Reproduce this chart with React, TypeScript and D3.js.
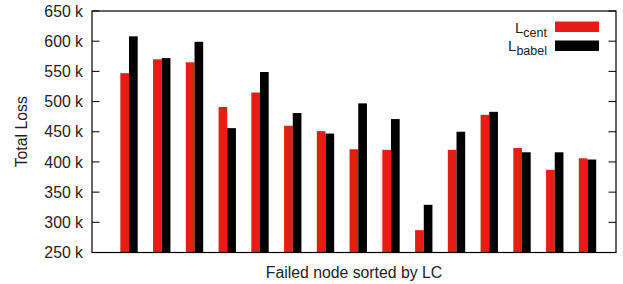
import * as d3 from "d3";

const nodes = d3.range(1, 16).map(String);
const lCent = [547, 570, 565, 491, 515, 460, 451, 421, 420, 287, 420, 478, 423, 387, 406];
const lBabel = [608, 572, 599, 456, 549, 481, 447, 497, 471, 329, 450, 483, 416, 416, 404];
const yTicks = [250, 300, 350, 400, 450, 500, 550, 600, 650];

const W = 623;
const H = 284;
const margin = { top: 11, right: 7, bottom: 31.5, left: 92 };
const RED = "#e41e12";

export default function App() {
  const innerW = W - margin.left - margin.right;
  const innerH = H - margin.top - margin.bottom;

  // group centres sit at i + 1.13 on a 0..16 scale
  const x = d3.scaleLinear().domain([-1.13, 14.87]).range([0, innerW]);
  const y = d3.scaleLinear().domain([250, 650]).range([innerH, 0]);
  const barW = (x(1) - x(0)) * 0.265;

  return (
    <svg
      width={W}
      height={H}
      style={{ position: "absolute", left: 0, top: 0, fontFamily: "Liberation Sans, Arial, sans-serif" }}
    >
      <g transform={`translate(${margin.left},${margin.top})`}>
        {nodes.map((n, i) => (
          <g key={n}>
            <rect
              x={x(i) - barW}
              y={y(lCent[i])}
              width={barW}
              height={innerH - y(lCent[i])}
              fill={RED}
            />
            <rect
              x={x(i)}
              y={y(lBabel[i])}
              width={barW}
              height={innerH - y(lBabel[i])}
              fill="#000"
            />
          </g>
        ))}

        {yTicks.map((t) => (
          <g key={t}>
            <line x1={0} x2={7.5} y1={y(t)} y2={y(t)} stroke="#000" />
            <line x1={innerW - 7.5} x2={innerW} y1={y(t)} y2={y(t)} stroke="#000" />
            <text x={-9} y={y(t)} dy="0.36em" textAnchor="end" fontSize={15.8} fill="#222">
              {t} k
            </text>
          </g>
        ))}

        <rect x={0} y={0} width={innerW} height={innerH} fill="none" stroke="#000" strokeWidth={1.2} />

        {/* legend */}
        <g fontSize={15} fill="#222">
          <text x={455} y={21.5} textAnchor="end">
            L<tspan fontSize={12.5} dy={4}>cent</tspan>
          </text>
          <rect x={463} y={10.5} width={44} height={10.5} fill={RED} />
          <text x={455} y={39.7} textAnchor="end">
            L<tspan fontSize={12.5} dy={4}>babel</tspan>
          </text>
          <rect x={463} y={29.5} width={44} height={10.5} fill="#000" />
        </g>
      </g>

      <text
        transform={`translate(27,${margin.top + innerH / 2}) rotate(-90)`}
        textAnchor="middle"
        fontSize={15.8}
        fill="#222"
      >
        Total Loss
      </text>
      <text x={margin.left + innerW / 2} y={277.5} textAnchor="middle" fontSize={15.8} fill="#222">
        Failed node sorted by LC
      </text>
    </svg>
  );
}
